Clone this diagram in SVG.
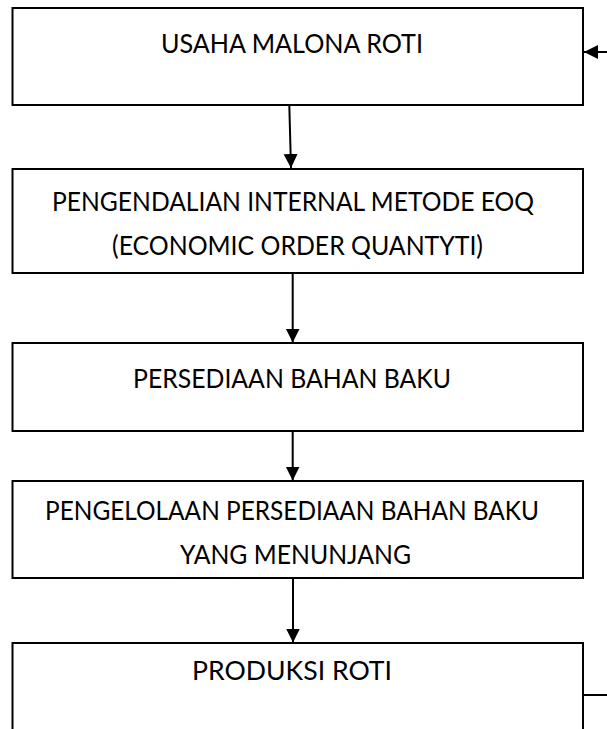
<svg xmlns="http://www.w3.org/2000/svg" width="607" height="729" viewBox="0 0 607 729">
<style>
.box{fill:#fff;stroke:#000;stroke-width:2}
.t{font-family:Lato,"Open Sans","Liberation Sans",sans-serif;font-size:26.5px;fill:#000;text-anchor:middle}
.c{stroke:#000;stroke-width:2;fill:none}
</style>
<defs>
<marker id="ah" viewBox="0 0 10 10" refX="10" refY="5" markerWidth="14" markerHeight="16" markerUnits="userSpaceOnUse" orient="auto">
<path d="M0,0 L10,5 L0,10 Z" fill="#000"/>
</marker>
</defs>
<rect width="607" height="729" fill="#fff"/>
<g id="n1">
<rect class="box" x="12.5" y="8" width="570.5" height="97"/>
<text class="t" x="292" y="53" textLength="262" lengthAdjust="spacingAndGlyphs">USAHA MALONA ROTI</text>
</g>
<g id="n2">
<rect class="box" x="12.5" y="169" width="570.5" height="104"/>
<text class="t" x="293" y="211" textLength="482" lengthAdjust="spacingAndGlyphs">PENGENDALIAN INTERNAL METODE EOQ</text>
<text class="t" x="297.5" y="255" textLength="371" lengthAdjust="spacingAndGlyphs">(ECONOMIC ORDER QUANTYTI)</text>
</g>
<g id="n3">
<rect class="box" x="12.5" y="343" width="570.5" height="88"/>
<text class="t" x="292" y="388" textLength="318" lengthAdjust="spacingAndGlyphs">PERSEDIAAN BAHAN BAKU</text>
</g>
<g id="n4">
<rect class="box" x="12.5" y="481" width="570.5" height="97"/>
<text class="t" x="292" y="520" textLength="494" lengthAdjust="spacingAndGlyphs">PENGELOLAAN PERSEDIAAN BAHAN BAKU</text>
<text class="t" x="295.5" y="564" textLength="231" lengthAdjust="spacingAndGlyphs">YANG MENUNJANG</text>
</g>
<g id="n5">
<rect class="box" x="12.5" y="643" width="570.5" height="110"/>
<text class="t" x="292" y="680" textLength="200" lengthAdjust="spacingAndGlyphs">PRODUKSI ROTI</text>
</g>
<g id="connectors">
<line class="c" x1="289.3" y1="105" x2="291" y2="168" marker-end="url(#ah)"/>
<line class="c" x1="292.7" y1="273" x2="292.7" y2="342.5" marker-end="url(#ah)"/>
<line class="c" x1="292.7" y1="431" x2="292.7" y2="480.5" marker-end="url(#ah)"/>
<line class="c" x1="293" y1="578" x2="293" y2="642.5" marker-end="url(#ah)"/>
<line class="c" x1="608" y1="52" x2="584" y2="52" marker-end="url(#ah)"/>
<line class="c" x1="583" y1="695" x2="608" y2="695"/>
</g>
</svg>
